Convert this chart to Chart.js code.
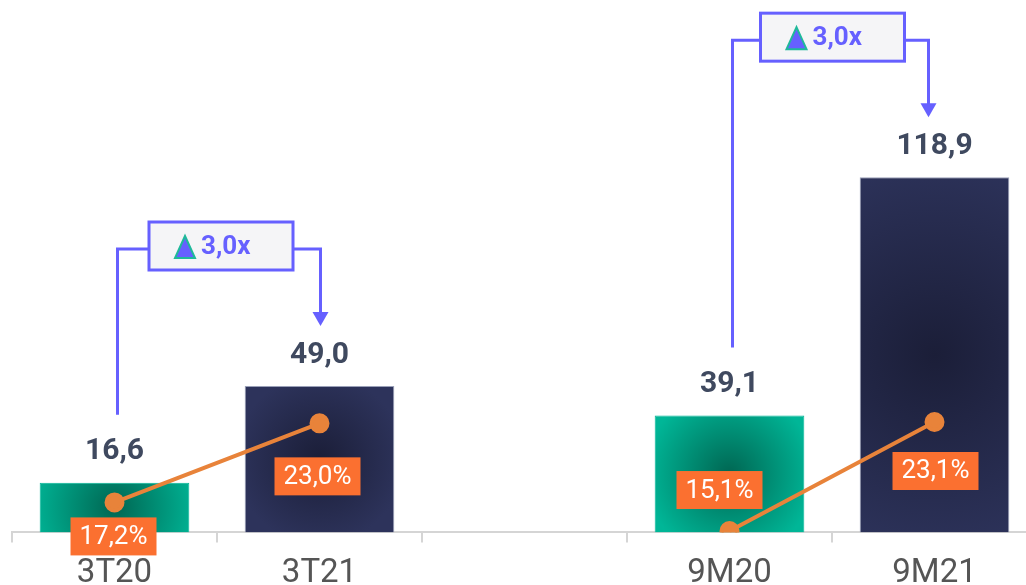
<!DOCTYPE html>
<html>
<head>
<meta charset="utf-8">
<script src="https://cdn.jsdelivr.net/npm/chart.js@4/dist/chart.umd.min.js"></script>
<style>
  html, body { margin: 0; padding: 0; background: #fff; overflow: hidden; }
  #wrap { width: 1026px; height: 585px; overflow: hidden; }
</style>
</head>
<body>
<div id="wrap"><canvas id="chart" width="1040" height="606"></canvas></div>
<script>
// chart values
const categories = ["3T20", "3T21", "", "9M20", "9M21"];
const revenue = [16.6, 49.0, null, 39.1, 118.9];
const margin = [17.2, 23.0, null, 15.1, 23.1];
const growthGroups = [[0, 1], [3, 4]];
const growthLabels = ["3,0x", "3,0x"];

const purple = "#6660ff";
const labelOffsets = [[-1, 34], [-2, 53], null, [-10, -41], [1, 49]];
const arrowShift = [1, -6];

function fmt(v, d) {
  return v.toFixed(d).replace(".", ",");
}

function barFill(ctx) {
  const chart = ctx.chart;
  const i = ctx.dataIndex;
  const v = revenue[i];
  const dark = i === 1 || i === 4;
  if (v === null || !chart.scales.x || !chart.chartArea) return dark ? "#262b4f" : "#00a98b";
  const cx = chart.scales.x.getPixelForValue(i);
  const top = chart.scales.y.getPixelForValue(v);
  const bottom = chart.scales.y.getPixelForValue(0);
  const cy = (top + bottom) / 2;
  const r = Math.max(74, (bottom - top) / 2) * 1.15;
  const g = chart.ctx.createRadialGradient(cx, cy, 0, cx, cy, r);
  if (dark) {
    g.addColorStop(0, "#1b1e38");
    g.addColorStop(1, "#2d335b");
  } else {
    g.addColorStop(0, "#006652");
    g.addColorStop(1, "#00b697");
  }
  return g;
}

const labelsPlugin = {
  id: "labels",
  afterDatasetsDraw(chart) {
    const c = chart.ctx;
    const x = chart.scales.x, y = chart.scales.y, y2 = chart.scales.y2;
    c.save();
    // bar values
    c.font = "bold 30px Roboto";
    c.fillStyle = "#3f495f";
    c.textAlign = "center";
    c.textBaseline = "middle";
    revenue.forEach((v, i) => {
      if (v === null) return;
      c.fillText(fmt(v, 1), x.getPixelForValue(i), y.getPixelForValue(v) - 31);
    });
    // margin boxes
    c.font = "26px Roboto";
    margin.forEach((v, i) => {
      if (v === null) return;
      const px = x.getPixelForValue(i) + labelOffsets[i][0];
      const py = y2.getPixelForValue(v) + labelOffsets[i][1];
      const t = fmt(v, 1) + "%";
      const w = c.measureText(t).width + 18;
      c.fillStyle = "#fb7030";
      c.fillRect(px - w / 2, py - 19, w, 38);
      c.fillStyle = "#ffffff";
      c.fillText(t, px, py + 1);
    });
    // growth brackets
    growthGroups.forEach((g, k) => {
      const xl = x.getPixelForValue(g[0]) + 3;
      const xr = x.getPixelForValue(g[1]) + arrowShift[k];
      const tipY = y.getPixelForValue(revenue[g[1]]) - 60;
      const by = tipY - 77;
      const lb = y.getPixelForValue(revenue[g[0]]) - 68;
      c.strokeStyle = purple;
      c.lineWidth = 3;
      c.beginPath();
      c.moveTo(xl, lb);
      c.lineTo(xl, by);
      c.lineTo(xr, by);
      c.lineTo(xr, tipY - 12);
      c.stroke();
      c.fillStyle = purple;
      c.beginPath();
      c.moveTo(xr - 8, tipY - 14);
      c.lineTo(xr + 8, tipY - 14);
      c.lineTo(xr, tipY);
      c.closePath();
      c.fill();
      // box
      const mx = (xl + xr) / 2 + 2;
      const my = by - 3;
      c.fillStyle = "#f5f5f7";
      c.fillRect(mx - 72, my - 24, 144, 48);
      c.strokeRect(mx - 72, my - 24, 144, 48);
      // triangle icon
      const tx = mx - 36, ty = my + 1;
      c.beginPath();
      c.moveTo(tx - 10, ty + 11);
      c.lineTo(tx + 10, ty + 11);
      c.lineTo(tx, ty - 11);
      c.closePath();
      c.fillStyle = purple;
      c.fill();
      c.strokeStyle = "#1fb99a";
      c.lineWidth = 2;
      c.stroke();
      c.fillStyle = purple;
      c.font = "bold 26px Roboto";
      c.textAlign = "left";
      c.fillText(growthLabels[k], tx + 16, my + 1);
      c.textAlign = "center";
    });
    c.restore();
  }
};

Chart.defaults.font.family = "Roboto";

const ctx = document.getElementById("chart").getContext("2d");
const chart = new Chart(ctx, {
  type: "bar",
  data: {
    labels: categories,
    datasets: [
      {
        type: "line",
        data: margin,
        yAxisID: "y2",
        borderColor: "#e8833a",
        backgroundColor: "#e8833a",
        borderWidth: 4,
        pointRadius: 8,
        pointHoverRadius: 8,
        spanGaps: false,
        order: 0,
      },
      {
        data: revenue,
        yAxisID: "y",
        backgroundColor: barFill,
        borderColor: ["#00b697", "#9aa0b8", "#fff", "#00b697", "#9aa0b8"],
        borderWidth: 1,
        categoryPercentage: 1,
        barPercentage: 0.73,
        order: 1,
      },
    ],
  },
  options: {
    responsive: false,
    animation: false,
    layout: { autoPadding: false, padding: { left: 12, right: 3, top: 0, bottom: 0 } },
    plugins: { legend: { display: false }, tooltip: { enabled: false } },
    scales: {
      x: {
        offset: true,
        grid: {
          offset: true,
          drawOnChartArea: false,
          tickLength: 10,
          color: "#d5d5d5",
          lineWidth: 2,
        },
        border: { display: true, color: "#d5d5d5", width: 2 },
        ticks: { color: "#555", font: { size: 33 }, padding: 12 },
      },
      y: { display: false, min: 0, max: 178.2 },
      y2: { display: false, min: 15.0, max: 54.06 },
    },
  },
  plugins: [labelsPlugin],
});
</script>
</body>
</html>
